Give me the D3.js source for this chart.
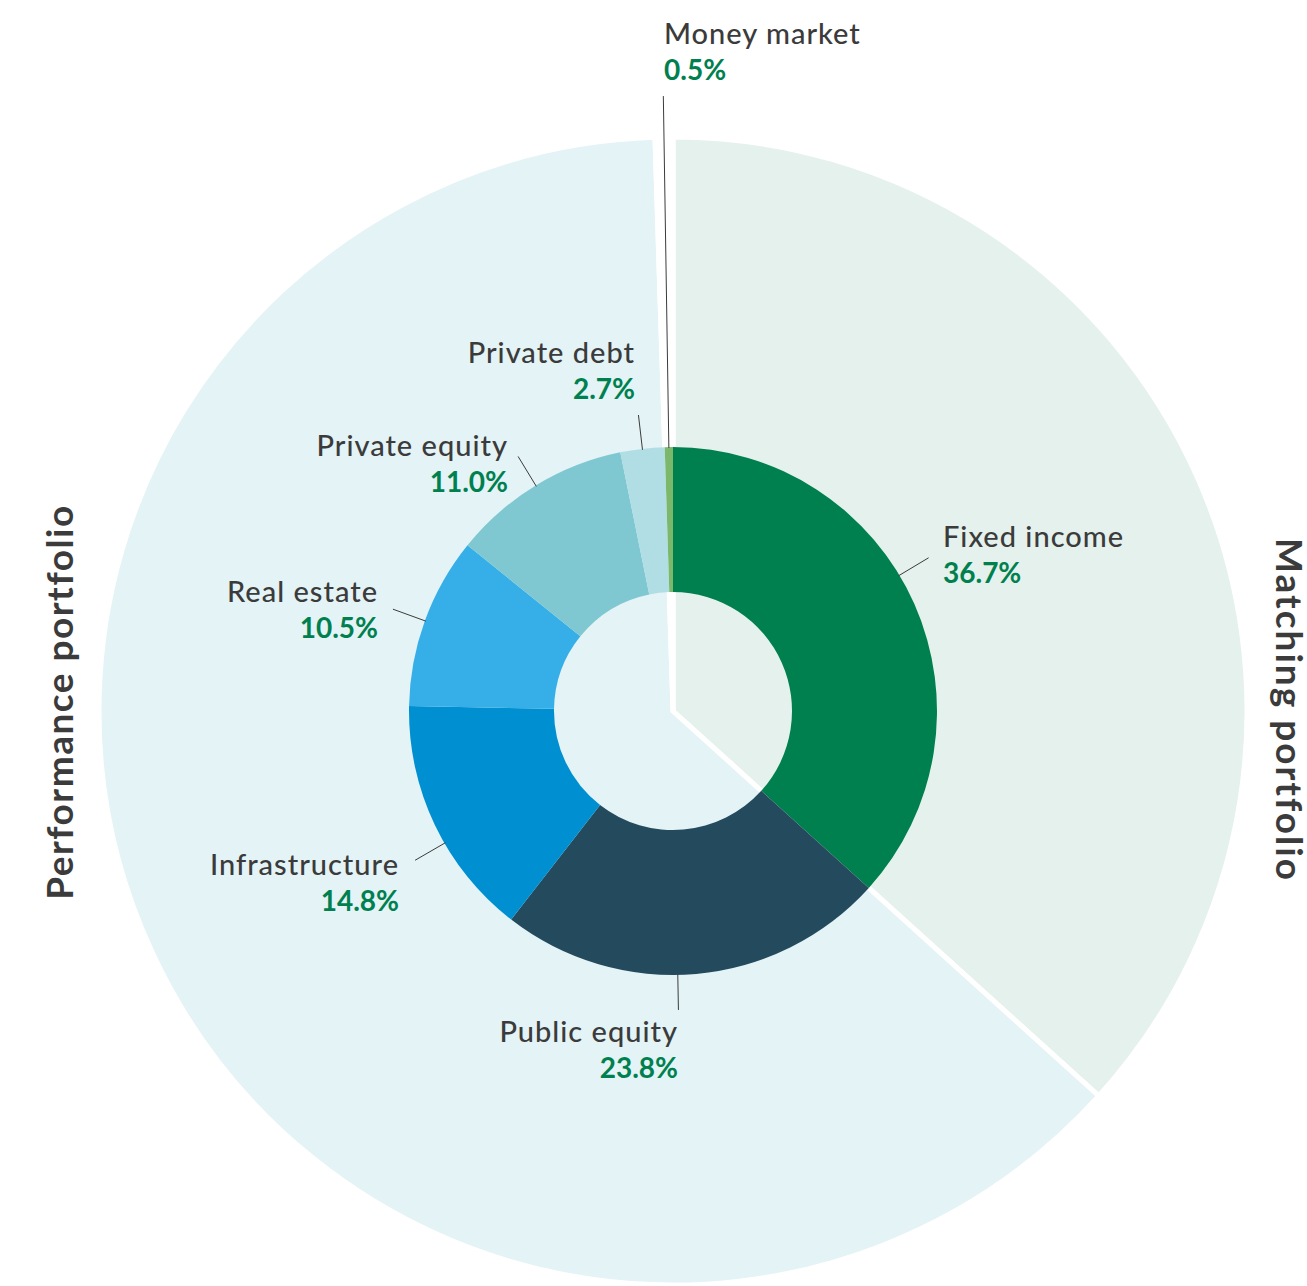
<!DOCTYPE html>
<html>

<head>
    <style>
        body {
            margin: 0;
            background: #ffffff;
        }

        svg {
            font-family: Lato, "Open Sans", sans-serif;
        }

        .name {
            fill: #3b3b3b;
            font-size: 29px;
            font-weight: 500;
            letter-spacing: 1px;
        }

        .value {
            fill: #00804f;
            font-size: 28px;
            font-weight: 700;
        }

        .title {
            fill: #3b3b3b;
            font-size: 37px;
            font-weight: 700;
        }

        .leader {
            stroke: #3b3b3b;
            stroke-width: 1px;
        }
    </style>
    <script src="https://cdnjs.cloudflare.com/ajax/libs/d3/7.8.5/d3.min.js"></script>
    <title>Asset mix</title>
</head>

<body>
    <div id="chart"></div>
</body>

</html>

<script>
    // asset classes, inner ring (clockwise from 12 o'clock)
    var categories = ["Fixed income", "Public equity", "Infrastructure", "Real estate",
        "Private equity", "Private debt", "Money market"];
    var values = [36.7, 23.8, 14.8, 10.5, 11.0, 2.7, 0.5];
    var colors = ["#007f4f", "#244b5d", "#0090d2", "#36afe8", "#7fc8d1", "#b0dee4", "#7cb86c"];

    // portfolios, outer ring
    var portfolios = ["Matching portfolio", "Performance portfolio", "Money market"];
    var portfolioValues = [36.7, 62.8, 0.5];
    var portfolioColors = ["#e4f1ec", "#e3f3f6", "#ffffff"];

    var width = 1307,
        height = 1286,
        cx = 673,
        cy = 711,
        rOuter = 574,
        rRing = 264,
        rHole = 119;

    // label layout: anchor point of the name line, leader angle shift (deg), leader length
    var labelLayout = {
        "Fixed income": { x: 943, y: 547, anchor: "start", shift: -7, r: 298 },
        "Public equity": { x: 678, y: 1042, anchor: "end", shift: 4, r: 299 },
        "Infrastructure": { x: 399, y: 875, anchor: "end", shift: -4.5, r: 298 },
        "Real estate": { x: 378, y: 602, anchor: "end", shift: 0, r: 298 },
        "Private equity": { x: 508, y: 456, anchor: "end", shift: 0, r: 298 },
        "Private debt": { x: 635, y: 363, anchor: "end", shift: 0, r: 298 },
        "Money market": { x: 664, y: 44, anchor: "start", shift: 0, r: 615 }
    };

    var fmt = d3.format(".1f");

    var svg = d3.select("#chart").append("svg")
        .attr("width", width)
        .attr("height", height);

    var g = svg.append("g")
        .attr("transform", "translate(" + cx + "," + cy + ")");

    var pie = d3.pie().sort(null).value(function (d) { return d; });

    // outer portfolio pie
    var outerArc = d3.arc().innerRadius(0).outerRadius(rOuter);
    g.selectAll(".portfolio")
        .data(pie(portfolioValues))
        .enter().append("path")
        .attr("class", "portfolio")
        .attr("d", outerArc)
        .attr("fill", function (d, i) { return portfolioColors[i]; })
        .attr("stroke", "#ffffff")
        .attr("stroke-width", 5)
        .attr("stroke-linejoin", "miter");

    // inner donut
    var innerArc = d3.arc().innerRadius(rHole).outerRadius(rRing);
    var slices = pie(values);
    g.selectAll(".slice")
        .data(slices)
        .enter().append("path")
        .attr("class", "slice")
        .attr("d", innerArc)
        .attr("fill", function (d, i) { return colors[i]; });

    // leader lines, radial from the donut edge
    slices.forEach(function (d, i) {
        var lay = labelLayout[categories[i]];
        var a = (d.startAngle + d.endAngle) / 2 + lay.shift * Math.PI / 180;
        g.append("line")
            .attr("class", "leader")
            .attr("x1", Math.sin(a) * (rRing - 1))
            .attr("y1", -Math.cos(a) * (rRing - 1))
            .attr("x2", Math.sin(a) * lay.r)
            .attr("y2", -Math.cos(a) * lay.r);
    });

    // labels
    categories.forEach(function (c, i) {
        var lay = labelLayout[c];
        var t = svg.append("g").attr("text-anchor", lay.anchor);
        t.append("text")
            .attr("class", "name")
            .attr("x", lay.x)
            .attr("y", lay.y)
            .text(c);
        t.append("text")
            .attr("class", "value")
            .attr("x", lay.x)
            .attr("y", lay.y + 36)
            .text(fmt(values[i]) + "%");
    });

    // rotated portfolio titles
    svg.append("text")
        .attr("class", "title")
        .attr("text-anchor", "middle")
        .attr("letter-spacing", 1.5)
        .attr("transform", "translate(73,702) rotate(-90)")
        .text(portfolios[1]);

    svg.append("text")
        .attr("class", "title")
        .attr("text-anchor", "middle")
        .attr("letter-spacing", 2)
        .attr("transform", "translate(1276,710) rotate(90)")
        .text(portfolios[0]);
</script>
